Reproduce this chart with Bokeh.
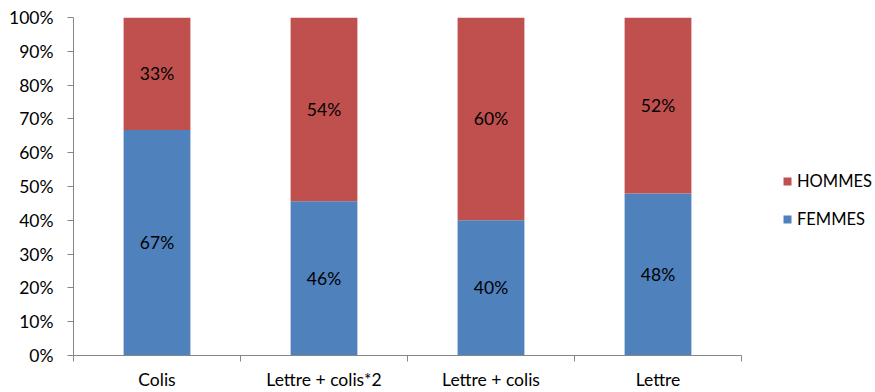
from bokeh.plotting import figure
from bokeh.models import FixedTicker, NumeralTickFormatter, Range1d, Legend, LegendItem, ColumnDataSource
from bokeh.core.properties import value
from bokeh.embed import file_html
from bokeh.resources import INLINE

categories = ["Colis", "Lettre + colis*2", "Lettre + colis", "Lettre"]
femmes = [0.667, 0.456, 0.400, 0.479]
hommes = [0.333, 0.544, 0.600, 0.521]
series_names = ["FEMMES", "HOMMES"]
colors = ["#4F81BD", "#C0504D"]
y_ticks = [i / 10 for i in range(11)]

FONT = "Lato"
FS = "17.5px"

W, H = 875, 392
LEFT, RIGHT, TOP, BOTTOM = 73, 0, 17, 37
frame_w = W - LEFT - RIGHT
cat_px = 167  # pixel width of one category slot
n = len(categories)
x_end = frame_w / cat_px

xs = [i + 0.5 for i in range(n)]
src = ColumnDataSource(dict(x=xs, FEMMES=femmes, HOMMES=hommes))

p = figure(width=W, height=H, output_backend="svg", toolbar_location=None,
           x_range=Range1d(0, x_end), y_range=Range1d(0, 1),
           min_border_left=LEFT, min_border_right=RIGHT, min_border_top=TOP, min_border_bottom=BOTTOM)
p.outline_line_color = None
p.xgrid.visible = False
p.ygrid.visible = False

renderers = p.vbar_stack(series_names, x="x", width=0.4, color=colors, source=src, line_color=None)

# data labels
lx, ly, lt = [], [], []
for i in range(n):
    lx.append(xs[i]); ly.append(femmes[i] / 2); lt.append(f"{round(femmes[i]*100)}%")
    lx.append(xs[i]); ly.append(femmes[i] + hommes[i] / 2); lt.append(f"{round(hommes[i]*100)}%")
p.text(x=lx, y=ly, text=lt, text_align="center", text_baseline="middle",
       text_font=value(FONT), text_font_size=FS, text_color="#000000")

# y axis
yax = p.yaxis[0]
yax.ticker = FixedTicker(ticks=y_ticks)
yax.formatter = NumeralTickFormatter(format="0%")
yax.axis_line_color = "#868686"
yax.major_tick_line_color = "#868686"
yax.major_tick_out = 6
yax.major_tick_in = 0
yax.minor_tick_line_color = None
yax.major_label_standoff = 14
yax.major_label_text_font = FONT
yax.major_label_text_font_size = FS
yax.major_label_text_color = "#000000"

# x axis: labels at centers, tick marks at category boundaries
xax = p.xaxis[0]
xax.bounds = (0, n)
xax.ticker = FixedTicker(ticks=xs, minor_ticks=list(range(n + 1)))
xax.major_label_overrides = {x: c for x, c in zip(xs, categories)}
xax.axis_line_color = "#868686"
xax.major_tick_line_color = None
xax.major_tick_out = 0
xax.major_tick_in = 0
xax.minor_tick_line_color = "#868686"
xax.minor_tick_out = 6
xax.minor_tick_in = 0
xax.major_label_standoff = 7
xax.major_label_text_font = FONT
xax.major_label_text_font_size = FS
xax.major_label_text_color = "#000000"

legend = Legend(items=[LegendItem(label="HOMMES", renderers=[renderers[1]]),
                       LegendItem(label="FEMMES", renderers=[renderers[0]])],
                location=(709, 126), padding=0, margin=0, spacing=18,
                glyph_width=10, glyph_height=10, label_height=20, label_standoff=5,
                label_text_font=FONT, label_text_font_size="16.5px", label_text_color="#000000",
                border_line_color=None, background_fill_alpha=0)
p.add_layout(legend)

open("out.html", "w").write(file_html(p, INLINE))
